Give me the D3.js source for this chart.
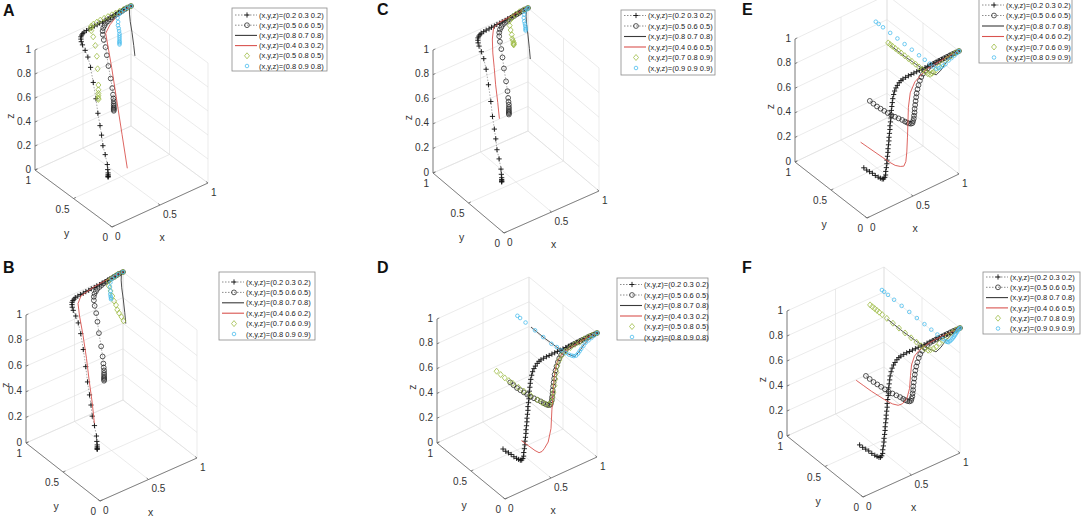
<!DOCTYPE html>
<html lang="en">
<head>
<meta charset="UTF-8">
<title>Evolution paths</title>
<style>
body{margin:0;background:#fff}
text{font-family:"Liberation Sans",Arial,Helvetica,sans-serif}
</style>
</head>
<body>
<script src="https://cdn.jsdelivr.net/npm/d3@7"></script>
<script>
// ---- data: trajectories as [x, y, z] points ----
// panels A-C end at (1,1,1)
var blackABC = [[0.2,0.3,0.2],[0.2,0.3,0.205],[0.2,0.3,0.21],[0.2,0.3,0.22],[0.2,0.3,0.235],[0.2,0.305,0.26],[0.2,0.31,0.3],[0.21,0.35,0.36],[0.21,0.38,0.42],[0.22,0.41,0.49],[0.22,0.43,0.56],[0.23,0.47,0.64],[0.25,0.52,0.73],[0.27,0.58,0.83],[0.29,0.64,0.92],[0.31,0.7,0.97],[0.33,0.76,0.99],[0.35,0.82,1],[0.37,0.86,1],[0.39,0.89,1],[0.41,0.915,1],[0.43,0.93,1],[0.45,0.94,1],[0.47,0.95,1],[0.5,0.955,1],[0.53,0.96,1],[0.56,0.96,1],[0.59,0.965,1],[0.62,0.965,1],[0.65,0.97,1],[0.68,0.97,1],[0.71,0.975,1],[0.74,0.975,1],[0.77,0.98,1],[0.8,0.98,1],[0.83,0.985,1],[0.86,0.99,1],[0.89,0.99,1],[0.92,0.995,1],[0.95,0.995,1],[0.98,1,1],[1,1,1]]
var circlesABC = [[0.5,0.6,0.5],[0.5,0.6,0.51],[0.5,0.6,0.52],[0.5,0.6,0.53],[0.5,0.6,0.545],[0.5,0.6,0.56],[0.5,0.6,0.58],[0.5,0.605,0.6],[0.5,0.61,0.63],[0.5,0.62,0.68],[0.5,0.64,0.75],[0.5,0.67,0.84],[0.5,0.69,0.92],[0.51,0.72,0.97],[0.54,0.78,0.99],[0.57,0.83,1],[0.6,0.87,1],[0.63,0.9,1],[0.66,0.92,1],[0.69,0.94,1],[0.72,0.95,1],[0.75,0.96,1],[0.78,0.97,1],[0.81,0.975,1],[0.84,0.98,1],[0.87,0.985,1],[0.9,0.99,1],[0.93,0.995,1],[0.96,1,1],[1,1,1]]
var darkABC = [[0.8,0.7,0.8],[0.82,0.74,0.86],[0.85,0.8,0.93],[0.88,0.86,0.98],[0.92,0.92,1],[0.96,0.97,1],[1,1,1]]
var redA = [[0.4,0.3,0.2],[0.45,0.43,0.4],[0.5,0.56,0.6],[0.55,0.69,0.8],[0.6,0.83,1],[0.7,0.9,1],[0.8,0.95,1],[0.9,0.98,1],[1,1,1]]
var greenA = [[0.5,0.8,0.5],[0.5,0.8,0.51],[0.5,0.8,0.53],[0.5,0.8,0.55],[0.5,0.8,0.58],[0.5,0.8,0.62],[0.5,0.81,0.75],[0.5,0.82,0.85],[0.5,0.84,0.93],[0.51,0.88,0.98],[0.53,0.93,1],[0.55,0.96,1],[0.57,0.98,1],[0.6,0.99,1],[0.64,0.995,1],[0.68,1,1],[0.72,1,1],[0.76,1,1],[0.8,1,1],[0.84,1,1],[0.88,1,1],[0.92,1,1],[0.96,1,1],[1,1,1]]
var cyanA = [[0.8,0.9,0.8],[0.8,0.9,0.81],[0.8,0.9,0.82],[0.8,0.9,0.83],[0.8,0.9,0.845],[0.8,0.9,0.86],[0.8,0.9,0.875],[0.8,0.9,0.89],[0.8,0.905,0.91],[0.8,0.91,0.93],[0.8,0.92,0.95],[0.81,0.93,0.97],[0.82,0.95,0.99],[0.85,0.97,1],[0.88,0.98,1],[0.92,0.99,1],[0.96,1,1],[1,1,1]]
var redB = [[0.4,0.6,0.2],[0.4,0.63,0.35],[0.4,0.67,0.5],[0.41,0.72,0.65],[0.42,0.78,0.8],[0.43,0.84,0.92],[0.46,0.9,0.98],[0.52,0.94,1],[0.6,0.96,1],[0.7,0.98,1],[0.8,0.99,1],[0.9,1,1],[1,1,1]]
var greenB = [[0.7,0.6,0.9],[0.71,0.64,0.91],[0.715,0.68,0.92],[0.72,0.71,0.93],[0.73,0.74,0.95],[0.74,0.78,0.96],[0.76,0.83,0.97],[0.78,0.88,0.98],[0.8,0.93,0.99],[0.83,0.97,1],[0.87,0.985,1],[0.91,0.99,1],[0.95,1,1],[1,1,1]]
var cyanB = [[0.8,0.9,0.9],[0.8,0.9,0.91],[0.8,0.905,0.92],[0.8,0.91,0.935],[0.81,0.92,0.95],[0.82,0.94,0.97],[0.84,0.96,0.99],[0.87,0.98,1],[0.91,0.99,1],[0.95,1,1],[1,1,1]]
var redC = [[0.4,0.6,0.5],[0.42,0.65,0.6],[0.45,0.72,0.7],[0.48,0.78,0.8],[0.51,0.84,0.88],[0.55,0.9,0.95],[0.6,0.95,1],[0.68,0.98,1],[0.78,0.99,1],[0.89,1,1],[1,1,1]]
var greenC = [[0.7,0.8,0.9],[0.7,0.8,0.905],[0.7,0.8,0.91],[0.7,0.8,0.92],[0.7,0.81,0.93],[0.7,0.82,0.94],[0.71,0.84,0.96],[0.72,0.87,0.98],[0.74,0.91,0.99],[0.77,0.95,1],[0.81,0.97,1],[0.86,0.99,1],[0.91,1,1],[0.96,1,1],[1,1,1]]
var cyanC = [[0.9,0.9,0.9],[0.9,0.9,0.91],[0.9,0.9,0.92],[0.9,0.905,0.935],[0.9,0.91,0.95],[0.9,0.92,0.965],[0.91,0.94,0.98],[0.93,0.96,0.99],[0.95,0.98,1],[0.98,0.99,1],[1,1,1]]

// panels D-F end at (1,0,1)
var blackDEF = [[0.2,0.3,0.2],[0.2,0.26,0.2],[0.2,0.22,0.205],[0.2,0.18,0.21],[0.2,0.14,0.21],[0.2,0.1,0.215],[0.2,0.07,0.22],[0.2,0.045,0.225],[0.2,0.025,0.235],[0.205,0.015,0.25],[0.21,0.01,0.27],[0.21,0.008,0.3],[0.215,0.006,0.33],[0.22,0.005,0.36],[0.22,0.004,0.39],[0.225,0.003,0.42],[0.23,0.003,0.45],[0.23,0.002,0.48],[0.235,0.002,0.51],[0.24,0.002,0.54],[0.24,0.001,0.57],[0.245,0.001,0.6],[0.25,0.001,0.63],[0.25,0.001,0.66],[0.255,0,0.69],[0.26,0,0.72],[0.26,0,0.75],[0.265,0,0.78],[0.27,0,0.81],[0.275,0,0.84],[0.28,0,0.87],[0.29,0,0.9],[0.3,0,0.925],[0.315,0,0.945],[0.33,0,0.96],[0.35,0,0.975],[0.37,0,0.985],[0.39,0,0.99],[0.42,0,0.993],[0.45,0,0.995],[0.48,0,0.995],[0.51,0,0.996],[0.54,0,0.996],[0.57,0,0.997],[0.6,0,0.997],[0.63,0,0.997],[0.66,0,0.998],[0.69,0,0.998],[0.72,0,0.998],[0.75,0,0.998],[0.78,0,0.999],[0.81,0,0.999],[0.84,0,0.999],[0.87,0,0.999],[0.9,0,1],[0.93,0,1],[0.96,0,1],[0.98,0,1],[1,0,1]]
var circlesDEF = [[0.5,0.6,0.5],[0.5,0.55,0.5],[0.5,0.5,0.5],[0.5,0.45,0.505],[0.5,0.4,0.51],[0.5,0.35,0.515],[0.5,0.3,0.52],[0.5,0.25,0.53],[0.5,0.2,0.54],[0.5,0.15,0.55],[0.5,0.11,0.555],[0.5,0.08,0.56],[0.5,0.055,0.565],[0.505,0.035,0.57],[0.51,0.02,0.58],[0.51,0.012,0.6],[0.515,0.008,0.62],[0.515,0.005,0.645],[0.52,0.004,0.67],[0.52,0.003,0.7],[0.525,0.002,0.73],[0.53,0.002,0.76],[0.535,0.001,0.79],[0.54,0.001,0.82],[0.55,0.001,0.85],[0.56,0,0.88],[0.575,0,0.91],[0.59,0,0.935],[0.61,0,0.955],[0.635,0,0.97],[0.66,0,0.98],[0.69,0,0.99],[0.72,0,0.993],[0.75,0,0.995],[0.78,0,0.996],[0.81,0,0.997],[0.84,0,0.998],[0.87,0,0.999],[0.9,0,1],[0.93,0,1],[0.96,0,1],[1,0,1]]
var darkDEF = [[0.8,0.7,0.8],[0.8,0.5,0.8],[0.8,0.3,0.81],[0.8,0.15,0.83],[0.8,0.06,0.85],[0.82,0.02,0.9],[0.86,0.005,0.95],[0.92,0,0.98],[1,0,1]]
var redD = [[0.4,0.3,0.2],[0.4,0.2,0.205],[0.4,0.1,0.21],[0.4,0.04,0.22],[0.41,0.01,0.24],[0.43,0.003,0.26],[0.47,0.001,0.3],[0.5,0,0.4],[0.51,0,0.55],[0.525,0,0.7],[0.54,0,0.84],[0.57,0,0.92],[0.62,0,0.96],[0.7,0,0.98],[0.8,0,0.99],[0.9,0,1],[1,0,1]]
var greenD = [[0.5,0.8,0.5],[0.5,0.74,0.5],[0.5,0.68,0.5],[0.5,0.62,0.505],[0.5,0.56,0.51],[0.5,0.48,0.515],[0.5,0.4,0.52],[0.5,0.3,0.53],[0.5,0.2,0.54],[0.5,0.13,0.55],[0.5,0.08,0.56],[0.51,0.04,0.57],[0.52,0.02,0.6],[0.525,0.01,0.64],[0.53,0.005,0.68],[0.54,0.003,0.73],[0.55,0.002,0.78],[0.56,0.001,0.83],[0.57,0,0.88],[0.59,0,0.92],[0.62,0,0.95],[0.66,0,0.97],[0.71,0,0.98],[0.76,0,0.99],[0.81,0,0.99],[0.86,0,1],[0.91,0,1],[0.95,0,1],[1,0,1]]
var cyanD = [[0.8,0.9,0.8],[0.8,0.86,0.8],[0.8,0.78,0.8],[0.8,0.64,0.8],[0.8,0.52,0.8],[0.8,0.4,0.8],[0.8,0.32,0.81],[0.8,0.25,0.815],[0.8,0.19,0.82],[0.8,0.14,0.83],[0.8,0.1,0.84],[0.8,0.07,0.85],[0.81,0.05,0.86],[0.82,0.035,0.88],[0.83,0.025,0.9],[0.84,0.015,0.92],[0.86,0.01,0.94],[0.88,0.005,0.96],[0.91,0.003,0.97],[0.94,0.001,0.98],[0.97,0,0.99],[1,0,1]]
var redE = [[0.4,0.6,0.2],[0.4,0.5,0.205],[0.4,0.4,0.21],[0.4,0.3,0.215],[0.4,0.2,0.22],[0.4,0.12,0.23],[0.41,0.06,0.245],[0.42,0.025,0.26],[0.43,0.01,0.3],[0.435,0.003,0.38],[0.44,0,0.5],[0.445,0,0.62],[0.45,0,0.74],[0.47,0,0.85],[0.52,0,0.92],[0.58,0,0.95],[0.66,0,0.98],[0.78,0,0.99],[0.9,0,1],[1,0,1]]
var greenE = [[0.7,0.6,0.9],[0.7,0.57,0.9],[0.7,0.54,0.9],[0.7,0.5,0.9],[0.7,0.46,0.9],[0.7,0.42,0.9],[0.7,0.37,0.9],[0.7,0.32,0.9],[0.7,0.27,0.9],[0.7,0.22,0.9],[0.7,0.17,0.9],[0.7,0.12,0.9],[0.7,0.08,0.9],[0.7,0.05,0.9],[0.71,0.03,0.9],[0.72,0.02,0.91],[0.73,0.01,0.92],[0.75,0.005,0.93],[0.78,0,0.95],[0.82,0,0.96],[0.87,0,0.98],[0.92,0,0.99],[0.96,0,1],[1,0,1]]
var cyanE = [[0.8,0.9,0.9],[0.8,0.86,0.9],[0.8,0.8,0.9],[0.8,0.7,0.9],[0.8,0.6,0.9],[0.8,0.5,0.9],[0.8,0.4,0.9],[0.8,0.3,0.9],[0.8,0.22,0.9],[0.8,0.15,0.9],[0.8,0.1,0.9],[0.8,0.06,0.9],[0.81,0.04,0.91],[0.82,0.025,0.92],[0.84,0.015,0.93],[0.86,0.008,0.94],[0.89,0.004,0.96],[0.92,0.002,0.97],[0.95,0,0.98],[0.98,0,0.99],[1,0,1]]
var redF = [[0.4,0.6,0.5],[0.4,0.5,0.505],[0.4,0.4,0.51],[0.4,0.3,0.52],[0.4,0.2,0.53],[0.4,0.12,0.545],[0.41,0.06,0.56],[0.43,0.03,0.58],[0.46,0.01,0.62],[0.48,0,0.7],[0.49,0,0.8],[0.5,0,0.88],[0.53,0,0.94],[0.58,0,0.97],[0.66,0,0.99],[0.78,0,1],[0.9,0,1],[1,0,1]]
var greenF = [[0.7,0.8,0.9],[0.7,0.77,0.9],[0.7,0.74,0.9],[0.7,0.71,0.9],[0.7,0.68,0.9],[0.7,0.64,0.9],[0.7,0.58,0.9],[0.7,0.5,0.9],[0.7,0.42,0.9],[0.7,0.34,0.9],[0.7,0.26,0.9],[0.7,0.19,0.9],[0.7,0.13,0.9],[0.7,0.08,0.9],[0.71,0.05,0.9],[0.72,0.03,0.91],[0.74,0.015,0.92],[0.76,0.007,0.93],[0.79,0.003,0.95],[0.83,0,0.96],[0.87,0,0.98],[0.92,0,0.99],[0.96,0,1],[1,0,1]]
var cyanF = [[0.9,0.9,0.9],[0.9,0.87,0.9],[0.9,0.82,0.9],[0.9,0.74,0.9],[0.9,0.64,0.9],[0.9,0.54,0.9],[0.9,0.44,0.9],[0.9,0.34,0.9],[0.9,0.25,0.9],[0.9,0.17,0.9],[0.9,0.1,0.9],[0.9,0.06,0.9],[0.9,0.04,0.905],[0.9,0.025,0.91],[0.91,0.015,0.92],[0.92,0.01,0.93],[0.93,0.006,0.94],[0.94,0.003,0.95],[0.95,0.002,0.96],[0.96,0.001,0.97],[0.97,0,0.98],[0.98,0,0.99],[0.99,0,0.995],[1,0,1]]

// legend texts
var labelsAD = ['(x,y,z)=(0.2 0.3 0.2)','(x,y,z)=(0.5 0.6 0.5)','(x,y,z)=(0.8 0.7 0.8)','(x,y,z)=(0.4 0.3 0.2)','(x,y,z)=(0.5 0.8 0.5)','(x,y,z)=(0.8 0.9 0.8)']
var labelsBE = ['(x,y,z)=(0.2 0.3 0.2)','(x,y,z)=(0.5 0.6 0.5)','(x,y,z)=(0.8 0.7 0.8)','(x,y,z)=(0.4 0.6 0.2)','(x,y,z)=(0.7 0.6 0.9)','(x,y,z)=(0.8 0.9 0.9)']
var labelsCF = ['(x,y,z)=(0.2 0.3 0.2)','(x,y,z)=(0.5 0.6 0.5)','(x,y,z)=(0.8 0.7 0.8)','(x,y,z)=(0.4 0.6 0.5)','(x,y,z)=(0.7 0.8 0.9)','(x,y,z)=(0.9 0.9 0.9)']

var xyTicks = [0, 0.5, 1]
var zTicks = [0, 0.2, 0.4, 0.6, 0.8, 1]

// ---- layout of each panel (screen geometry) ----
var panels = [
  {id:'A', L:[3,16],  O:[112,227], xu:[96,-44], yu:[-77,-57], zl:120, leg:{x:232,w:95,top:8,bot:71,r0:15,dy:10.2},
   labels:labelsAD, series:[blackABC,circlesABC,darkABC,redA,greenA,cyanA]},
  {id:'B', L:[3,273], O:[100,501], xu:[97,-43], yu:[-74,-58], zl:128, leg:{x:219,w:96,top:272,bot:340,r0:282,dy:10.4},
   labels:labelsBE, series:[blackABC,circlesABC,darkABC,redB,greenB,cyanB]},
  {id:'C', L:[377,15], O:[504,233], xu:[95,-42], yu:[-71,-60], zl:123, leg:{x:621,w:94,top:10,bot:75,r0:15.5,dy:10.5},
   labels:labelsCF, series:[blackABC,circlesABC,darkABC,redC,greenC,cyanC]},
  {id:'D', L:[377,273], O:[505,499], xu:[92,-42], yu:[-68,-56], zl:124, leg:{x:617,w:91,top:278,bot:340,r0:284.5,dy:10.5},
   labels:labelsAD, series:[blackDEF,circlesDEF,darkDEF,redD,greenD,cyanD]},
  {id:'E', L:[742,15], O:[867,218], xu:[92,-44], yu:[-72,-56], zl:123, leg:{x:979,w:93,top:-3,bot:63,r0:5,dy:10.5},
   labels:labelsBE, series:[blackDEF,circlesDEF,darkDEF,redE,greenE,cyanE]},
  {id:'F', L:[742,273], O:[863,497], xu:[97,-44], yu:[-76,-61], zl:125, leg:{x:983,w:97,top:272,bot:334,r0:277,dy:10.3},
   labels:labelsCF, series:[blackDEF,circlesDEF,darkDEF,redF,greenF,cyanF]}
]

var styles = [
  {line:'#707070', lw:0.6, dash:'1.5,1.5', marker:'plus', mc:'#111', mw:0.9},
  {line:'#707070', lw:0.6, dash:'1.5,1.5', marker:'circle', mc:'#222', r:2.4, mw:0.75},
  {line:'#3a3a3a', lw:0.9},
  {line:'#d9534f', lw:0.9},
  {marker:'diamond', mc:'#9dbb45', mw:0.8},
  {marker:'circle', mc:'#4dbeee', r:1.8, mw:0.8}
]

function markerPath(st) {
  if (st.marker === 'plus') return 'M-2.6,0H2.6M0,-2.6V2.6'
  if (st.marker === 'diamond') return 'M0,-3L2.5,0L0,3L-2.5,0Z'
  var r = st.r
  return 'M' + r + ',0A' + r + ',' + r + ' 0 1,1 ' + (-r) + ',0A' + r + ',' + r + ' 0 1,1 ' + r + ',0Z'
}

var svg = d3.select('body').append('svg').attr('width', 1084).attr('height', 521)
svg.append('rect').attr('width', 1084).attr('height', 521).attr('fill', '#fff')
var fmt = d3.format('~g')
var line = d3.line()

panels.forEach(function (p) {
  var g = svg.append('g')
  var sx = d3.scaleLinear().domain([0, 1]).range([[0, 0], p.xu])
  var sy = d3.scaleLinear().domain([0, 1]).range([[0, 0], p.yu])
  var sz = d3.scaleLinear().domain([0, 1]).range([0, -p.zl])
  var proj = function (d) {
    var a = sx(d[0]).slice(), b = sy(d[1]).slice()
    return [p.O[0] + a[0] + b[0], p.O[1] + a[1] + b[1] + sz(d[2])]
  }

  // grid on floor and the two back walls
  var grid = []
  xyTicks.forEach(function (t) {
    grid.push([[t,0,0],[t,1,0]], [[0,t,0],[1,t,0]], [[t,1,0],[t,1,1]], [[1,t,0],[1,t,1]])
  })
  zTicks.forEach(function (t) {
    grid.push([[0,1,t],[1,1,t]], [[1,0,t],[1,1,t]])
  })
  g.append('g').selectAll('path').data(grid).join('path')
    .attr('d', function (d) { return line(d.map(proj)) })
    .attr('fill', 'none').attr('stroke', '#dddddd').attr('stroke-width', 0.6)

  // axis lines
  var ax = g.append('g').attr('fill', 'none').attr('stroke', '#666').attr('stroke-width', 0.8)
  ax.append('path').attr('d', line([[0,1,0],[0,0,0],[1,0,0]].map(proj)))
  ax.append('path').attr('d', line([[0,1,0],[0,1,1]].map(proj)))
  xyTicks.forEach(function (t) {
    ax.append('path').attr('d', line([[t,0,0],[t,0.025,0]].map(proj)))
    ax.append('path').attr('d', line([[0,t,0],[0.025,t,0]].map(proj)))
  })
  zTicks.forEach(function (t) {
    ax.append('path').attr('d', line([[0,1,t],[0.025,1,t]].map(proj)))
  })

  // tick labels
  var tl = g.append('g').attr('font-size', 10).attr('fill', '#333')
  zTicks.forEach(function (t) {
    var q = proj([0, 1, t])
    tl.append('text').attr('x', q[0] - 4).attr('y', q[1] - 1).attr('dy', '0.35em')
      .attr('text-anchor', 'end').text(fmt(t))
  })
  xyTicks.forEach(function (t) {
    var q = proj([0, t, 0])
    tl.append('text').attr('x', q[0] - 4).attr('y', q[1] + 14).attr('text-anchor', 'end').text(fmt(t))
    var r = proj([t, 0, 0])
    tl.append('text').attr('x', r[0] + 3).attr('y', r[1] + 12.5).text(fmt(t))
  })
  var my = proj([0, 0.5, 0]), mx = proj([0.5, 0, 0]), mz = proj([0, 1, 0.5])
  tl.append('text').attr('x', my[0] - 7).attr('y', my[1] + 38).attr('text-anchor', 'middle').attr('font-size', 10.5).text('y')
  tl.append('text').attr('x', mx[0] + 2).attr('y', mx[1] + 36).attr('text-anchor', 'middle').attr('font-size', 10.5).text('x')
  tl.append('text').attr('transform', 'translate(' + Math.max(9, mz[0] - 21) + ',' + (mz[1] + 6) + ') rotate(-90)')
    .attr('text-anchor', 'middle').attr('font-size', 10.5).text('z')

  // trajectories
  p.series.forEach(function (pts, i) {
    var st = styles[i]
    var xy = pts.map(proj)
    if (st.line) {
      g.append('path').attr('d', line(xy)).attr('fill', 'none')
        .attr('stroke', st.line).attr('stroke-width', st.lw).attr('stroke-dasharray', st.dash || null)
    }
    if (st.marker) {
      g.append('g').selectAll('path').data(xy).join('path')
        .attr('transform', function (d) { return 'translate(' + d[0] + ',' + d[1] + ')' })
        .attr('d', markerPath(st)).attr('fill', 'none')
        .attr('stroke', st.mc).attr('stroke-width', st.mw)
    }
  })

  // panel letter
  svg.append('text').attr('x', p.L[0]).attr('y', p.L[1]).attr('font-size', 16)
    .attr('font-weight', 'bold').attr('fill', '#111').text(p.id)

  // legend
  var lg = svg.append('g')
  var L = p.leg
  lg.append('rect').attr('x', L.x).attr('y', L.top).attr('width', L.w).attr('height', L.bot - L.top)
    .attr('fill', '#fff').attr('stroke', '#8a8a8a').attr('stroke-width', 0.8)
  p.labels.forEach(function (s, i) {
    var st = styles[i], y = L.r0 + i * L.dy
    if (st.line) {
      lg.append('line').attr('x1', L.x + 3).attr('x2', L.x + 25).attr('y1', y).attr('y2', y)
        .attr('stroke', st.line).attr('stroke-width', st.lw + 0.2).attr('stroke-dasharray', st.dash || null)
    }
    if (st.marker) {
      lg.append('path').attr('transform', 'translate(' + (L.x + 15) + ',' + y + ')')
        .attr('d', markerPath(st)).attr('fill', 'none').attr('stroke', st.mc).attr('stroke-width', st.mw)
    }
    lg.append('text').attr('x', L.x + 27).attr('y', y).attr('dy', '0.35em')
      .attr('font-size', 7.5).attr('fill', '#222').text(s)
  })
})
</script>
</body>
</html>
